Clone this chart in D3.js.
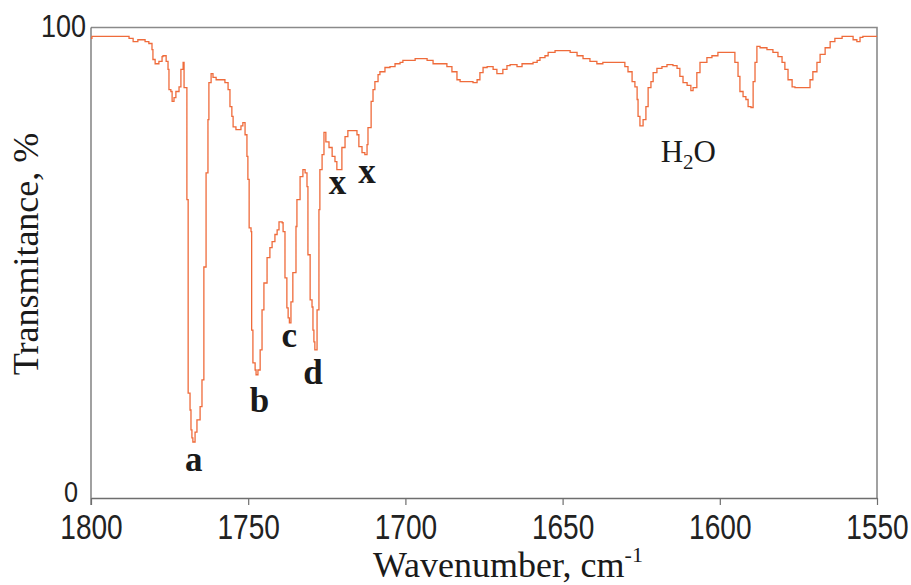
<!DOCTYPE html>
<html>
<head>
<meta charset="utf-8">
<script src="https://d3js.org/d3.v7.min.js"></script>
<style>
  body { margin: 0; background: #fff; }
  svg { display: block; }
</style>
</head>
<body>
<svg id="chart" width="911" height="585"></svg>
<script>
// IR spectrum
const wavenumbers = [1800, 1799.7, 1788.2, 1787.9, 1786.6, 1785.4, 1785.1, 1783.5, 1782.8, 1781.9,
  1781.6, 1780.9, 1780.6, 1780.3, 1779.6, 1778.7, 1778.4, 1777.4, 1777.1, 1776.5,
  1776.1, 1775.5, 1775.2, 1774.6, 1774.2, 1773.6, 1773.0, 1772.0, 1771.4, 1770.7,
  1770.4, 1769.8, 1769.5, 1769.1, 1768.5, 1768.2, 1767.9, 1767.6, 1766.9, 1766.3,
  1765.3, 1764.7, 1764.1, 1763.4, 1762.8, 1762.5, 1761.8, 1761.2, 1760.2, 1758.0,
  1757.4, 1756.4, 1755.8, 1755.2, 1754.8, 1753.9, 1752.9, 1752.3, 1751.7, 1751.0,
  1750.4, 1750.1, 1749.7, 1749.1, 1748.9, 1748.5, 1747.8, 1747.5, 1746.9, 1746.2,
  1745.6, 1745.0, 1744.0, 1743.1, 1742.4, 1741.5, 1740.8, 1740.2, 1739.2, 1738.9,
  1738.3, 1737.7, 1737.3, 1736.9, 1736.4, 1735.8, 1734.8, 1734.5, 1733.5, 1732.6,
  1731.9, 1731.3, 1731.0, 1730.3, 1729.7, 1729.4, 1729.1, 1728.8, 1728.1, 1727.5,
  1727.2, 1726.5, 1725.9, 1725.3, 1724.3, 1723.3, 1722.4, 1721.8, 1720.8, 1720.2,
  1719.2, 1718.3, 1716.7, 1715.4, 1714.8, 1713.8, 1712.9, 1712.2, 1711.9, 1710.9,
  1710.3, 1709.7, 1708.7, 1708.1, 1706.5, 1704.9, 1703.3, 1701.7, 1700.8, 1697.6,
  1696.9, 1694.4, 1693.1, 1691.2, 1688.0, 1686.8, 1685.2, 1683.6, 1682.6, 1679.5,
  1678.5, 1677.2, 1676.3, 1675.3, 1674.0, 1673.1, 1672.1, 1670.9, 1669.9, 1669.0,
  1667.7, 1666.7, 1665.1, 1664.5, 1663.5, 1662.9, 1660.4, 1659.4, 1658.1, 1657.2,
  1655.6, 1654.6, 1652.4, 1648.6, 1647.6, 1645.4, 1643.5, 1641.3, 1639.1, 1637.2,
  1631.1, 1630.2, 1629.2, 1627.9, 1627.0, 1626.3, 1626.0, 1625.4, 1624.8, 1624.4,
  1623.5, 1622.8, 1621.9, 1621.2, 1620.0, 1618.4, 1616.8, 1614.9, 1613.6, 1612.7,
  1611.7, 1610.4, 1609.2, 1608.5, 1607.3, 1606.3, 1604.1, 1602.5, 1600.6, 1596.1,
  1595.2, 1594.2, 1593.6, 1592.6, 1591.7, 1591.0, 1590.1, 1589.4, 1588.8, 1588.2,
  1587.2, 1585.0, 1583.1, 1581.5, 1580.2, 1579.3, 1578.3, 1577.0, 1576.1, 1572.3,
  1571.3, 1570.4, 1569.1, 1568.1, 1566.5, 1564.9, 1563.4, 1561.1, 1559.2, 1557.6,
  1556.4, 1555.4, 1554.5, 1550];
const transmittance = [97.7, 98.1, 98.1, 97.7, 97.0, 97.0, 97.4, 97.4, 97.0, 97.0,
  96.6, 96.6, 95.3, 93.2, 92.3, 92.3, 92.8, 93.8, 94.0, 94.0,
  92.8, 91.1, 86.8, 86.4, 84.3, 85.1, 86.4, 87.4, 91.1, 92.6,
  87.2, 87.2, 63.4, 22.3, 18.7, 14.5, 12.8, 11.9, 14.0, 16.6,
  19.4, 25.1, 49.1, 69.1, 80.4, 88.3, 90.2, 89.4, 88.9, 88.9,
  88.3, 86.8, 83.2, 81.1, 78.9, 78.3, 78.3, 79.1, 79.8, 77.2,
  72.6, 67.7, 57.4, 56.6, 35.7, 28.7, 27.2, 26.2, 27.2, 31.5,
  40.0, 45.7, 51.1, 53.2, 54.5, 56.0, 57.0, 58.7, 58.5, 56.6,
  46.8, 40.4, 38.3, 37.2, 41.7, 47.9, 57.7, 63.4, 68.3, 69.8,
  69.1, 66.2, 51.7, 42.1, 40.6, 35.7, 33.2, 31.5, 40.0, 61.3,
  69.8, 73.0, 77.7, 75.7, 74.5, 72.6, 71.5, 69.8, 69.8, 74.5,
  76.8, 78.1, 78.1, 77.2, 74.7, 73.4, 73.0, 75.1, 78.7, 84.3,
  86.8, 88.5, 90.0, 90.6, 91.5, 91.7, 92.3, 92.6, 93.0, 93.0,
  93.4, 93.4, 93.0, 92.3, 92.3, 91.7, 90.6, 88.9, 88.5, 88.5,
  88.3, 88.9, 90.4, 91.5, 91.7, 91.7, 91.1, 90.2, 90.2, 91.1,
  91.9, 92.1, 92.1, 91.7, 91.7, 92.3, 92.3, 92.6, 93.0, 93.6,
  94.0, 94.7, 95.1, 95.1, 94.7, 94.0, 93.4, 92.8, 92.3, 92.6,
  92.6, 91.7, 90.6, 88.5, 87.4, 84.7, 81.1, 79.1, 79.1, 80.4,
  83.2, 87.2, 88.5, 90.4, 91.3, 91.7, 92.1, 91.9, 91.3, 89.6,
  88.3, 87.7, 86.6, 87.2, 90.4, 92.6, 93.6, 94.0, 94.7, 94.7,
  92.6, 89.6, 86.4, 85.3, 84.7, 83.2, 83.0, 88.5, 92.6, 96.0,
  95.7, 95.3, 94.7, 93.8, 92.6, 91.1, 88.9, 87.4, 87.2, 87.2,
  88.9, 90.6, 92.6, 94.3, 95.7, 97.0, 97.7, 98.1, 98.1, 97.4,
  97.0, 97.9, 98.1, 98.1];

const xTicks = [1800, 1750, 1700, 1650, 1600, 1550];
const yTicks = [0, 100];

// peak labels: text, wavenumber, transmittance at baseline
const peakLabels = ["a", "b", "c", "d", "x", "x"];
const peakWn = [1767.3, 1746.4, 1736.9, 1729.4, 1721.6, 1712.2];
const peakT = [5.7, 18.3, 32.1, 24.3, 64.7, 67.0];

const svg = d3.select("#chart");
const margin = { top: 27.5, right: 34, bottom: 87, left: 91 };
const width = 911 - margin.left - margin.right,
  height = 585 - margin.top - margin.bottom;

const g = svg.append("g").attr("transform", `translate(${margin.left}, ${margin.top})`);

const x = d3.scaleLinear().domain([1800, 1550]).range([0, width]);
const y = d3.scaleLinear().domain([0, 100]).range([height, 0]);

const frameColor = "#6e6e6e";

// top and right frame
g.append("path")
  .attr("d", `M0,0H${width}V${height}`)
  .attr("fill", "none")
  .attr("stroke", "#8a8a8a")
  .attr("stroke-width", 1.6);

// bottom axis
const xAxis = g.append("g")
  .attr("transform", `translate(0, ${height})`)
  .call(d3.axisBottom(x).tickValues(xTicks).tickSize(7).tickSizeOuter(0).tickFormat(d3.format("d")));
xAxis.select(".domain").attr("stroke", frameColor).attr("stroke-width", 1.3);
xAxis.selectAll(".tick line").attr("stroke", frameColor).attr("stroke-width", 1.2);
xAxis.selectAll(".tick text")
  .attr("y", 0)
  .attr("dy", 0)
  .attr("fill", "#222")
  .style("font-family", "'Liberation Sans', Arial, sans-serif")
  .style("font-size", "36px")
  .attr("transform", "translate(0, 41) scale(0.78, 1)");

// left axis
const yAxis = g.append("g")
  .call(d3.axisLeft(y).tickValues(yTicks).tickSize(0).tickSizeOuter(0).tickPadding(5));
yAxis.select(".domain").attr("stroke", frameColor).attr("stroke-width", 1.3)
  .attr("d", `M0,0V${height + 7}`);
yAxis.selectAll(".tick text")
  .attr("fill", "#222")
  .attr("x", 0)
  .attr("dy", 0)
  .style("font-family", "'Liberation Sans', Arial, sans-serif")
  .style("font-size", d => d === 100 ? "31px" : "29px")
  .attr("transform", d => `translate(${d === 100 ? -5 : -13}, ${d === 100 ? 9 : 3}) scale(0.87, 1)`);

// spectrum
const line = d3.line()
  .x((d, i) => x(wavenumbers[i]))
  .y(d => y(d))
  .curve(d3.curveStepAfter);

g.append("path")
  .datum(transmittance)
  .attr("fill", "none")
  .attr("stroke", "#ef6b3b")
  .attr("stroke-width", 1.3)
  .attr("d", line);

// peak letters
g.selectAll(".peak")
  .data(peakLabels)
  .enter().append("text")
  .attr("class", "peak")
  .attr("x", (d, i) => x(peakWn[i]))
  .attr("y", (d, i) => y(peakT[i]))
  .attr("text-anchor", "middle")
  .attr("fill", "#1a1a1a")
  .style("font-family", "'Liberation Serif', 'Times New Roman', serif")
  .style("font-size", "35px")
  .style("font-weight", "bold")
  .text(d => d);

// water label
const h2o = g.append("text")
  .attr("x", x(1610))
  .attr("y", y(71.5))
  .attr("text-anchor", "middle")
  .attr("fill", "#1a1a1a")
  .style("font-family", "'Liberation Serif', 'Times New Roman', serif")
  .style("font-size", "31px");
h2o.append("tspan").text("H");
h2o.append("tspan").attr("dy", 7).style("font-size", "21px").text("2");
h2o.append("tspan").attr("dy", -7).text("O");

// axis titles
const xTitle = svg.append("text")
  .attr("x", 373)
  .attr("y", 577)
  .attr("fill", "#1a1a1a")
  .style("font-family", "'Liberation Serif', 'Times New Roman', serif")
  .style("font-size", "36px");
xTitle.append("tspan").text("Wavenumber, cm");
xTitle.append("tspan").attr("dy", -15).style("font-size", "22px").text("-1");

svg.append("text")
  .attr("transform", "translate(38, 254) rotate(-90)")
  .attr("text-anchor", "middle")
  .attr("fill", "#1a1a1a")
  .style("font-family", "'Liberation Serif', 'Times New Roman', serif")
  .style("font-size", "36px")
  .text("Transmitance, %");
</script>
</body>
</html>
